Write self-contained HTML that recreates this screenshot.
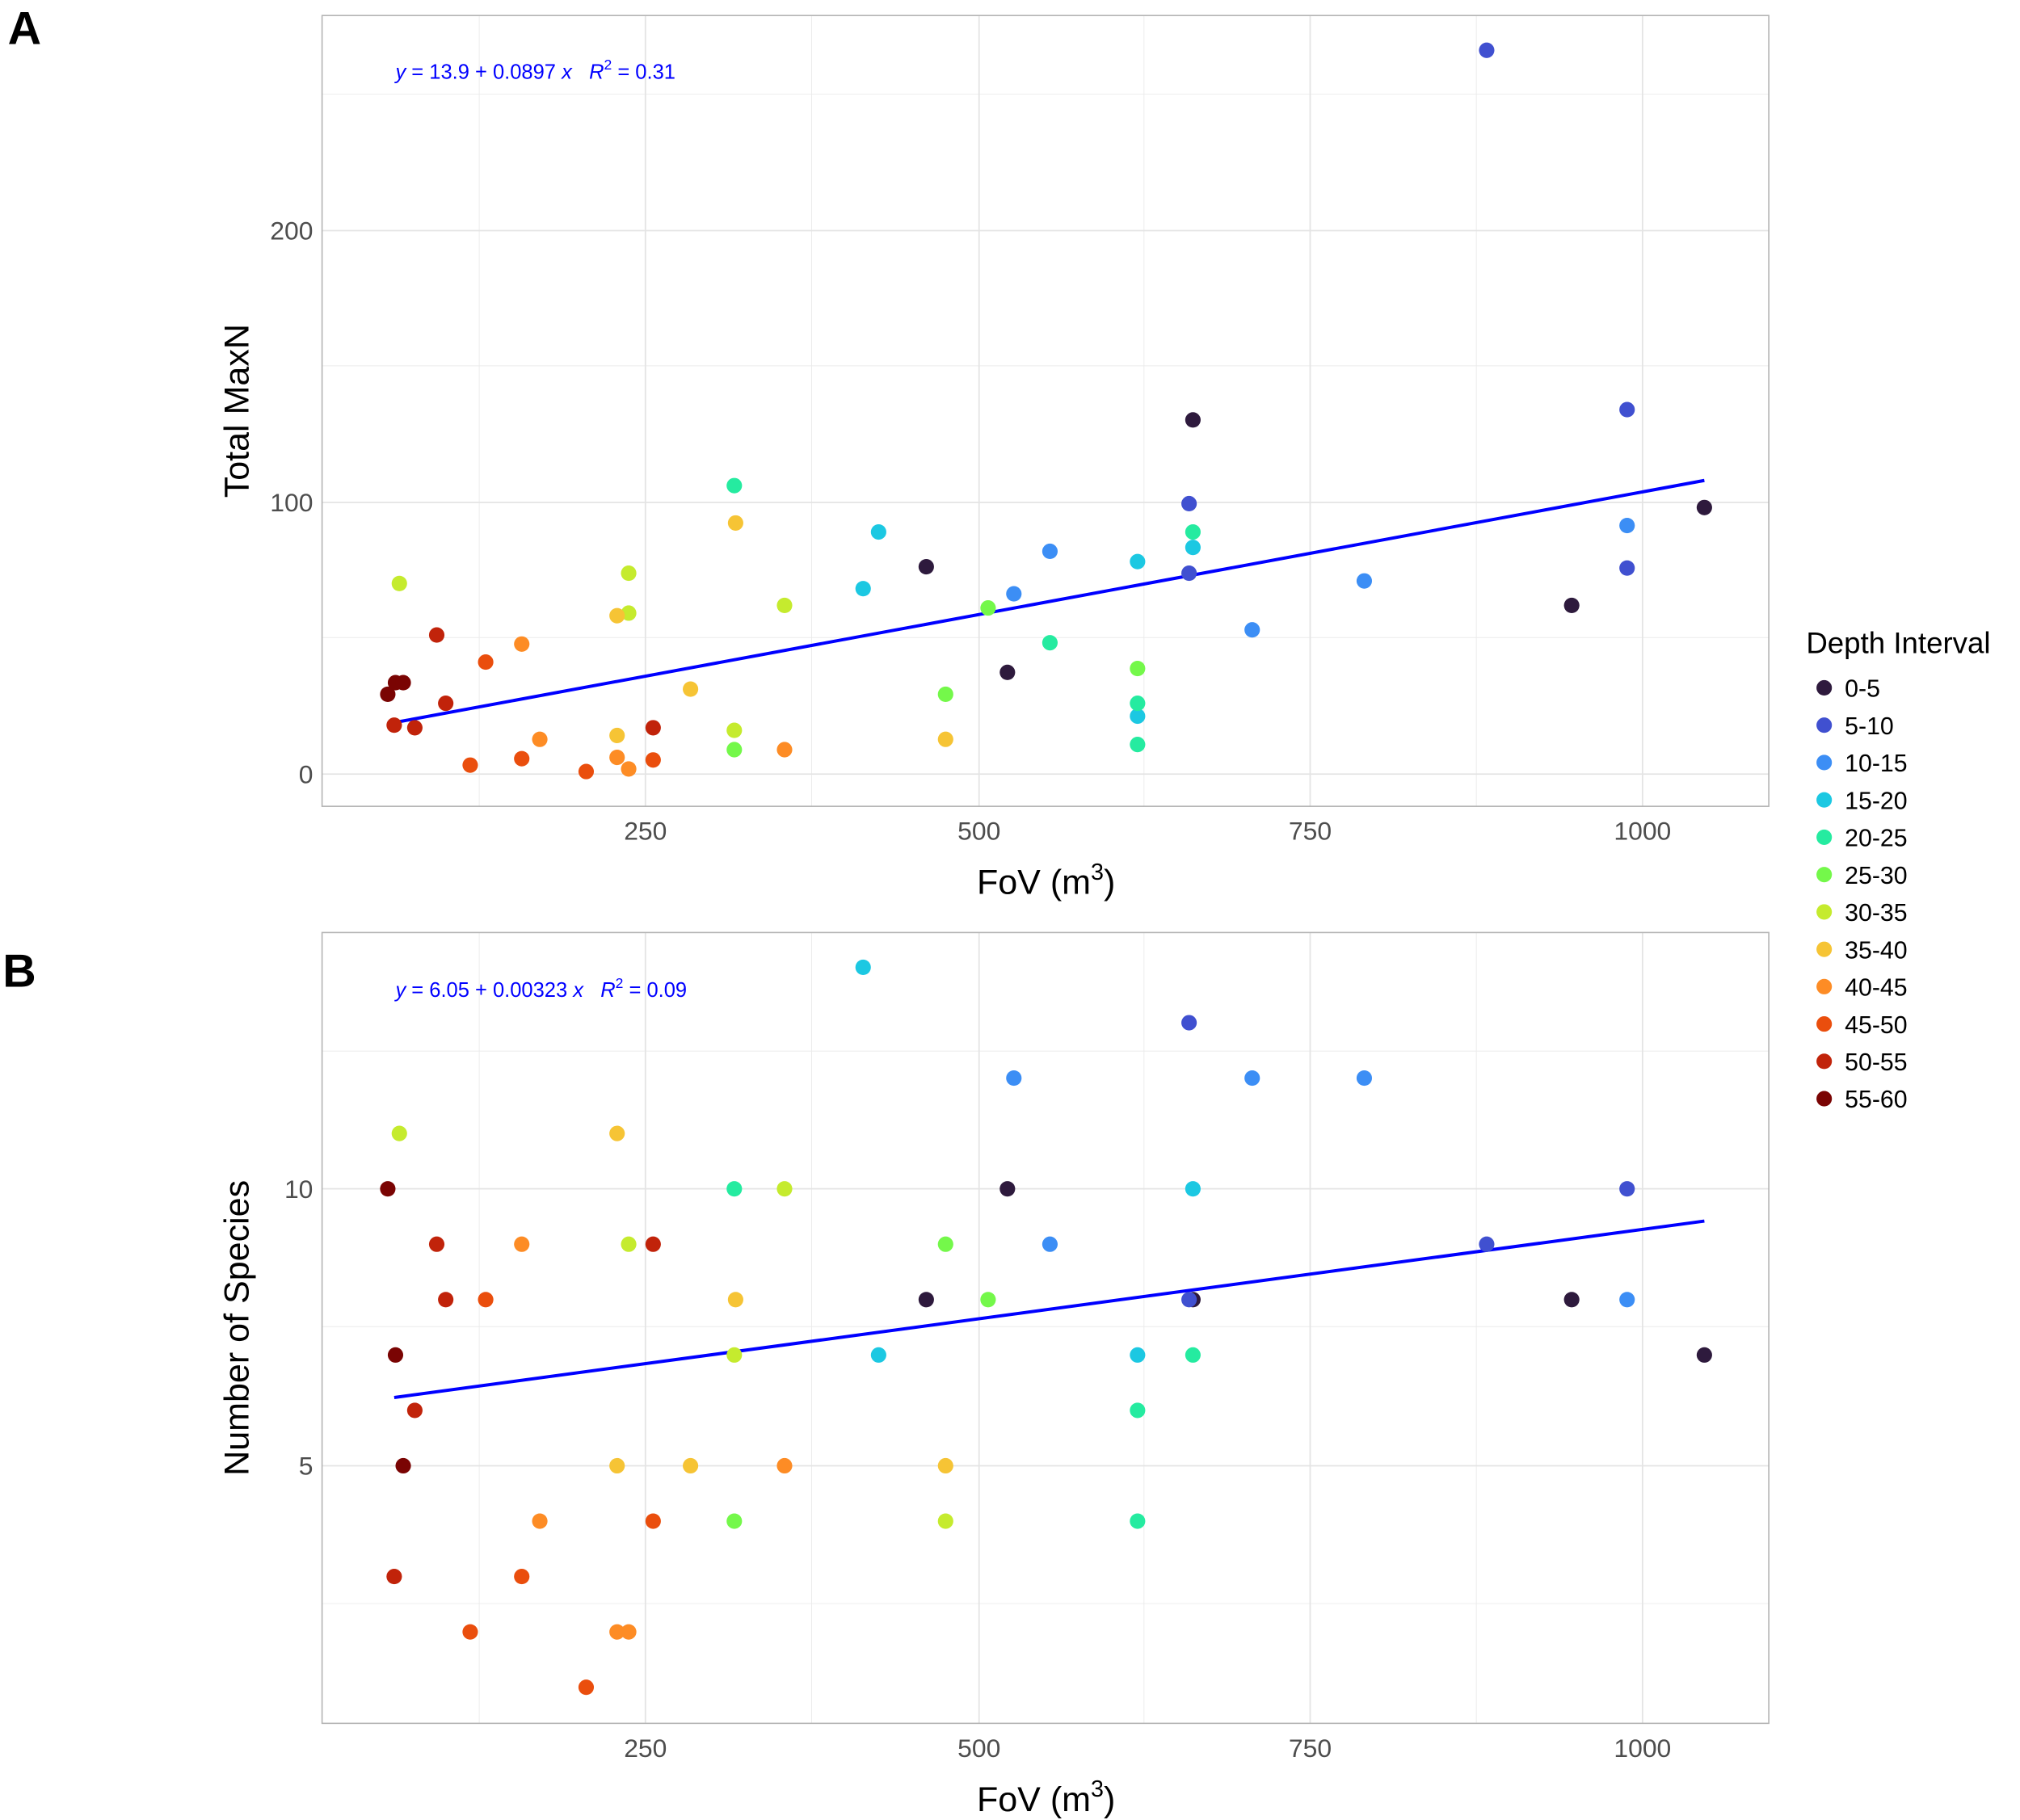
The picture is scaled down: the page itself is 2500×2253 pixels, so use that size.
<!DOCTYPE html>
<html><head><meta charset="utf-8"><style>html,body{margin:0;padding:0;background:#fff}svg{display:block}</style></head>
<body>
<svg width="2500" height="2253" viewBox="0 0 1568 1413" xmlns="http://www.w3.org/2000/svg" font-family="Liberation Sans, sans-serif">
<rect width="1568" height="1413" fill="#fff"/>
<g stroke="#ebebeb" stroke-width="0.6">
<line x1="372" y1="12" x2="372" y2="626"/><line x1="630" y1="12" x2="630" y2="626"/><line x1="888" y1="12" x2="888" y2="626"/><line x1="1146" y1="12" x2="1146" y2="626"/>
<line x1="250" y1="495" x2="1373" y2="495"/><line x1="250" y1="284" x2="1373" y2="284"/><line x1="250" y1="73" x2="1373" y2="73"/>
<line x1="372" y1="724" x2="372" y2="1338"/><line x1="630" y1="724" x2="630" y2="1338"/><line x1="888" y1="724" x2="888" y2="1338"/><line x1="1146" y1="724" x2="1146" y2="1338"/>
<line x1="250" y1="1245" x2="1373" y2="1245"/><line x1="250" y1="1030" x2="1373" y2="1030"/><line x1="250" y1="816" x2="1373" y2="816"/>
</g>
<g stroke="#e4e4e4" stroke-width="1.1">
<line x1="501" y1="12" x2="501" y2="626"/><line x1="760" y1="12" x2="760" y2="626"/><line x1="1017" y1="12" x2="1017" y2="626"/><line x1="1275" y1="12" x2="1275" y2="626"/>
<line x1="250" y1="601" x2="1373" y2="601"/><line x1="250" y1="390" x2="1373" y2="390"/><line x1="250" y1="179" x2="1373" y2="179"/>
<line x1="501" y1="724" x2="501" y2="1338"/><line x1="760" y1="724" x2="760" y2="1338"/><line x1="1017" y1="724" x2="1017" y2="1338"/><line x1="1275" y1="724" x2="1275" y2="1338"/>
<line x1="250" y1="1138" x2="1373" y2="1138"/><line x1="250" y1="923" x2="1373" y2="923"/>
</g>
<rect x="250" y="12" width="1123" height="614" fill="none" stroke="#b3b3b3" stroke-width="1"/>
<rect x="250" y="724" width="1123" height="614" fill="none" stroke="#b3b3b3" stroke-width="1"/>
<g font-size="20" fill="#4d4d4d">
<text x="501" y="652" text-anchor="middle">250</text><text x="760" y="652" text-anchor="middle">500</text><text x="1017" y="652" text-anchor="middle">750</text><text x="1275" y="652" text-anchor="middle">1000</text>
<text x="501" y="1364" text-anchor="middle">250</text><text x="760" y="1364" text-anchor="middle">500</text><text x="1017" y="1364" text-anchor="middle">750</text><text x="1275" y="1364" text-anchor="middle">1000</text>
<text x="243" y="608" text-anchor="end">0</text><text x="243" y="397" text-anchor="end">100</text><text x="243" y="186" text-anchor="end">200</text>
<text x="243" y="1145" text-anchor="end">5</text><text x="243" y="930" text-anchor="end">10</text>
</g>
<g font-size="27" fill="#000">
<text x="812" y="694" text-anchor="middle">FoV (m<tspan font-size="18" dy="-11">3</tspan><tspan dy="11">)</tspan></text>
<text x="812" y="1406" text-anchor="middle">FoV (m<tspan font-size="18" dy="-11">3</tspan><tspan dy="11">)</tspan></text>
<text transform="translate(193,319) rotate(-90)" text-anchor="middle">Total MaxN</text>
<text transform="translate(193,1031) rotate(-90)" text-anchor="middle">Number of Species</text>
</g>
<text x="6" y="34" font-size="36" font-weight="bold">A</text>
<text x="2" y="766" font-size="36" font-weight="bold">B</text>
<g fill="#0000ff" font-size="16">
<text x="307" y="61"><tspan font-style="italic">y</tspan> = 13.9 + 0.0897 <tspan font-style="italic">x</tspan>&#160;&#160;&#160;<tspan font-style="italic">R</tspan><tspan font-size="11" dy="-7">2</tspan><tspan dy="7"> = 0.31</tspan></text>
<text x="307" y="774"><tspan font-style="italic">y</tspan> = 6.05 + 0.00323 <tspan font-style="italic">x</tspan>&#160;&#160;&#160;<tspan font-style="italic">R</tspan><tspan font-size="11" dy="-7">2</tspan><tspan dy="7"> = 0.09</tspan></text>
</g>
<line x1="306" y1="561" x2="1323" y2="373" stroke="#0000ff" stroke-width="2.5"/>
<line x1="306" y1="1085" x2="1323" y2="948" stroke="#0000ff" stroke-width="2.5"/>
<g id="pts">
<g fill="#2E1A3D"><circle cx="719" cy="440" r="6"/><circle cx="782" cy="522" r="6"/><circle cx="926" cy="326" r="6"/><circle cx="1220" cy="470" r="6"/><circle cx="1323" cy="394" r="6"/>
<circle cx="719" cy="1009" r="6"/><circle cx="782" cy="923" r="6"/><circle cx="926" cy="1009" r="6"/><circle cx="1220" cy="1009" r="6"/><circle cx="1323" cy="1052" r="6"/></g>
<g fill="#4050D0"><circle cx="1154" cy="39" r="6"/><circle cx="923" cy="391" r="6"/><circle cx="923" cy="445" r="6"/><circle cx="1263" cy="318" r="6"/><circle cx="1263" cy="441" r="6"/>
<circle cx="923" cy="794" r="6"/><circle cx="1154" cy="966" r="6"/><circle cx="1263" cy="923" r="6"/><circle cx="923" cy="1009" r="6"/></g>
<g fill="#3C8EF5"><circle cx="787" cy="461" r="6"/><circle cx="815" cy="428" r="6"/><circle cx="972" cy="489" r="6"/><circle cx="1059" cy="451" r="6"/><circle cx="1263" cy="408" r="6"/>
<circle cx="787" cy="837" r="6"/><circle cx="972" cy="837" r="6"/><circle cx="1059" cy="837" r="6"/><circle cx="815" cy="966" r="6"/><circle cx="1263" cy="1009" r="6"/></g>
<g fill="#1CC8E2"><circle cx="670" cy="457" r="6"/><circle cx="682" cy="413" r="6"/><circle cx="883" cy="436" r="6"/><circle cx="883" cy="556" r="6"/><circle cx="926" cy="425" r="6"/>
<circle cx="670" cy="751" r="6"/><circle cx="682" cy="1052" r="6"/><circle cx="883" cy="1052" r="6"/><circle cx="926" cy="923" r="6"/></g>
<g fill="#25EBA0"><circle cx="570" cy="377" r="6"/><circle cx="815" cy="499" r="6"/><circle cx="883" cy="546" r="6"/><circle cx="883" cy="578" r="6"/><circle cx="926" cy="413" r="6"/>
<circle cx="570" cy="923" r="6"/><circle cx="883" cy="1095" r="6"/><circle cx="883" cy="1181" r="6"/><circle cx="926" cy="1052" r="6"/></g>
<g fill="#74F84A"><circle cx="570" cy="582" r="6"/><circle cx="734" cy="539" r="6"/><circle cx="767" cy="472" r="6"/><circle cx="883" cy="519" r="6"/>
<circle cx="570" cy="1181" r="6"/><circle cx="734" cy="966" r="6"/><circle cx="767" cy="1009" r="6"/></g>
<g fill="#C5EB2E"><circle cx="310" cy="453" r="6"/><circle cx="488" cy="445" r="6"/><circle cx="488" cy="476" r="6"/><circle cx="570" cy="567" r="6"/><circle cx="609" cy="470" r="6"/>
<circle cx="310" cy="880" r="6"/><circle cx="488" cy="966" r="6"/><circle cx="570" cy="1052" r="6"/><circle cx="609" cy="923" r="6"/><circle cx="734" cy="1181" r="6"/></g>
<g fill="#F6C435"><circle cx="479" cy="478" r="6"/><circle cx="479" cy="571" r="6"/><circle cx="536" cy="535" r="6"/><circle cx="571" cy="406" r="6"/><circle cx="734" cy="574" r="6"/>
<circle cx="479" cy="880" r="6"/><circle cx="479" cy="1138" r="6"/><circle cx="536" cy="1138" r="6"/><circle cx="571" cy="1009" r="6"/><circle cx="734" cy="1138" r="6"/></g>
<g fill="#FD8C25"><circle cx="405" cy="500" r="6"/><circle cx="419" cy="574" r="6"/><circle cx="479" cy="588" r="6"/><circle cx="488" cy="597" r="6"/><circle cx="609" cy="582" r="6"/>
<circle cx="405" cy="966" r="6"/><circle cx="419" cy="1181" r="6"/><circle cx="479" cy="1267" r="6"/><circle cx="488" cy="1267" r="6"/><circle cx="609" cy="1138" r="6"/></g>
<g fill="#EA4E0D"><circle cx="365" cy="594" r="6"/><circle cx="405" cy="589" r="6"/><circle cx="455" cy="599" r="6"/><circle cx="507" cy="590" r="6"/><circle cx="377" cy="514" r="6"/>
<circle cx="365" cy="1267" r="6"/><circle cx="405" cy="1224" r="6"/><circle cx="455" cy="1310" r="6"/><circle cx="507" cy="1181" r="6"/><circle cx="377" cy="1009" r="6"/></g>
<g fill="#C1230A"><circle cx="306" cy="563" r="6"/><circle cx="322" cy="565" r="6"/><circle cx="339" cy="493" r="6"/><circle cx="346" cy="546" r="6"/><circle cx="507" cy="565" r="6"/>
<circle cx="306" cy="1224" r="6"/><circle cx="322" cy="1095" r="6"/><circle cx="339" cy="966" r="6"/><circle cx="346" cy="1009" r="6"/><circle cx="507" cy="966" r="6"/></g>
<g fill="#7A0403"><circle cx="301" cy="539" r="6"/><circle cx="307" cy="530" r="6"/><circle cx="313" cy="530" r="6"/>
<circle cx="301" cy="923" r="6"/><circle cx="307" cy="1052" r="6"/><circle cx="313" cy="1138" r="6"/></g>
</g>
<text x="1402" y="507" font-size="23">Depth Interval</text>
<g font-size="19" fill="#000">
<circle cx="1416" cy="534" r="6" fill="#2E1A3D"/><text x="1432" y="541">0-5</text>
<circle cx="1416" cy="563" r="6" fill="#4050D0"/><text x="1432" y="570">5-10</text>
<circle cx="1416" cy="592" r="6" fill="#3C8EF5"/><text x="1432" y="599">10-15</text>
<circle cx="1416" cy="621" r="6" fill="#1CC8E2"/><text x="1432" y="628">15-20</text>
<circle cx="1416" cy="650" r="6" fill="#25EBA0"/><text x="1432" y="657">20-25</text>
<circle cx="1416" cy="679" r="6" fill="#74F84A"/><text x="1432" y="686">25-30</text>
<circle cx="1416" cy="708" r="6" fill="#C5EB2E"/><text x="1432" y="715">30-35</text>
<circle cx="1416" cy="737" r="6" fill="#F6C435"/><text x="1432" y="744">35-40</text>
<circle cx="1416" cy="766" r="6" fill="#FD8C25"/><text x="1432" y="773">40-45</text>
<circle cx="1416" cy="795" r="6" fill="#EA4E0D"/><text x="1432" y="802">45-50</text>
<circle cx="1416" cy="824" r="6" fill="#C1230A"/><text x="1432" y="831">50-55</text>
<circle cx="1416" cy="853" r="6" fill="#7A0403"/><text x="1432" y="860">55-60</text>
</g>
</svg>
</body></html>
